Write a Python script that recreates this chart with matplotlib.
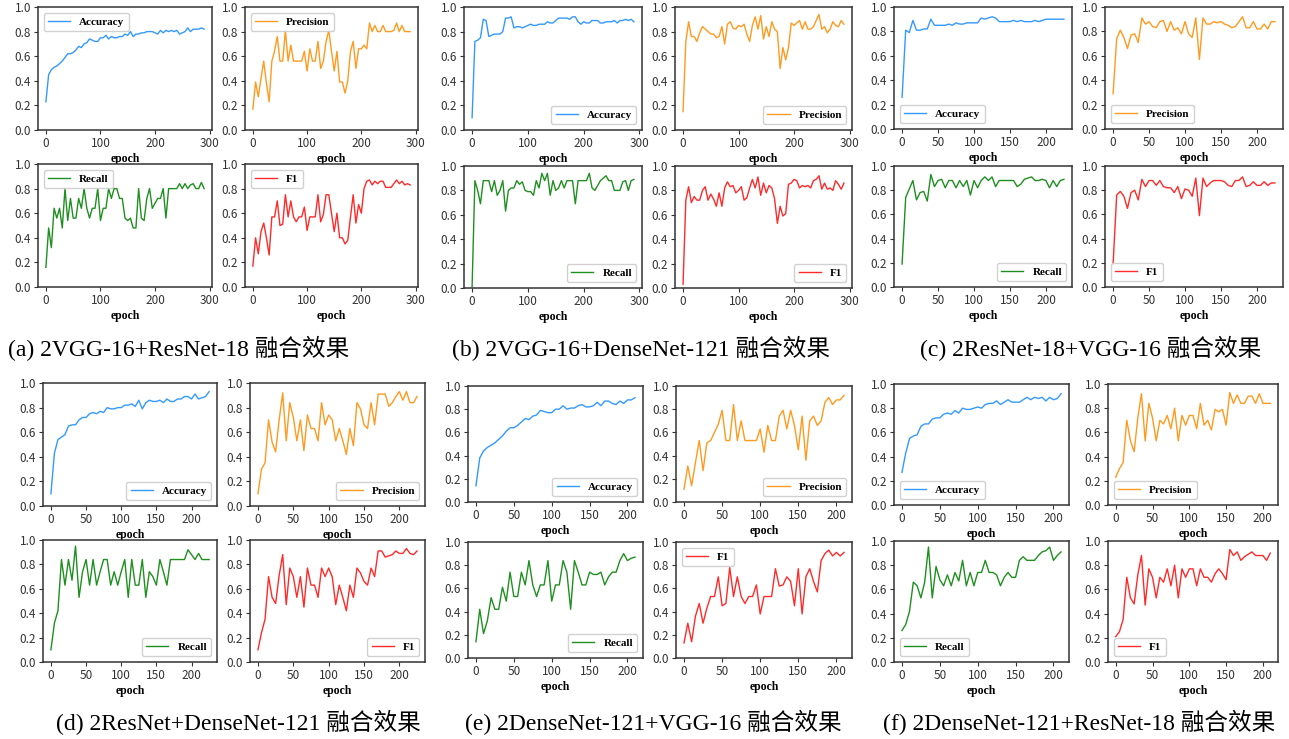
import numpy as np
import matplotlib
matplotlib.use("Agg")
import matplotlib.pyplot as plt
from matplotlib.ticker import MultipleLocator

# metric curves, one value every 5 epochs
a_acc = [0.23,0.45,0.49,0.51,0.52,0.54,0.56,0.59,0.62,0.62,0.63,0.65,0.68,0.67,0.70,0.71,0.74,0.73,0.72,0.72,
         0.75,0.75,0.77,0.74,0.76,0.75,0.75,0.76,0.76,0.78,0.77,0.80,0.76,0.78,0.78,0.79,0.79,0.80,0.80,0.80,
         0.79,0.78,0.81,0.79,0.81,0.80,0.81,0.80,0.81,0.78,0.79,0.80,0.83,0.80,0.82,0.82,0.82,0.83,0.82]
a_prec = [0.17,0.39,0.27,0.42,0.56,0.38,0.23,0.56,0.64,0.76,0.56,0.56,0.81,0.56,0.69,0.56,0.56,0.56,0.56,0.64,
          0.48,0.66,0.56,0.56,0.72,0.50,0.56,0.72,0.81,0.64,0.48,0.64,0.39,0.39,0.30,0.40,0.64,0.72,0.50,0.66,
          0.66,0.69,0.66,0.87,0.80,0.85,0.80,0.80,0.85,0.80,0.80,0.80,0.81,0.87,0.80,0.85,0.80,0.80,0.80]
a_rec = [0.16,0.48,0.32,0.64,0.56,0.64,0.48,0.80,0.54,0.72,0.56,0.56,0.72,0.64,0.80,0.64,0.56,0.64,0.64,0.80,
         0.54,0.64,0.64,0.80,0.72,0.80,0.80,0.72,0.72,0.56,0.54,0.56,0.48,0.48,0.80,0.56,0.54,0.72,0.80,0.64,
         0.68,0.72,0.72,0.80,0.56,0.80,0.80,0.80,0.80,0.84,0.80,0.84,0.80,0.83,0.84,0.80,0.80,0.85,0.80]
a_f1 = [0.17,0.40,0.27,0.45,0.52,0.40,0.26,0.57,0.57,0.70,0.50,0.51,0.75,0.57,0.70,0.57,0.53,0.57,0.57,0.65,
        0.46,0.57,0.57,0.57,0.75,0.53,0.59,0.75,0.75,0.60,0.45,0.60,0.40,0.40,0.35,0.38,0.57,0.75,0.52,0.67,
        0.60,0.80,0.86,0.87,0.83,0.86,0.84,0.86,0.86,0.81,0.81,0.81,0.84,0.87,0.84,0.86,0.83,0.84,0.83]

b_acc = [0.10,0.72,0.73,0.75,0.90,0.89,0.76,0.77,0.78,0.78,0.78,0.80,0.91,0.91,0.92,0.83,0.84,0.84,0.83,0.84,
         0.85,0.86,0.85,0.85,0.86,0.86,0.86,0.88,0.87,0.87,0.89,0.91,0.91,0.91,0.91,0.90,0.92,0.92,0.88,0.86,
         0.88,0.87,0.87,0.89,0.89,0.89,0.87,0.87,0.88,0.88,0.88,0.89,0.87,0.89,0.89,0.90,0.89,0.90,0.88]
b_prec = [0.15,0.72,0.88,0.76,0.76,0.72,0.79,0.84,0.82,0.80,0.78,0.78,0.75,0.76,0.84,0.70,0.86,0.88,0.83,0.82,
          0.85,0.84,0.86,0.78,0.72,0.85,0.92,0.82,0.93,0.74,0.84,0.76,0.88,0.82,0.80,0.50,0.67,0.57,0.67,0.87,
          0.85,0.87,0.89,0.82,0.88,0.82,0.82,0.84,0.89,0.94,0.82,0.84,0.79,0.82,0.88,0.85,0.84,0.89,0.86]
b_rec = [0.01,0.88,0.80,0.69,0.88,0.88,0.88,0.79,0.88,0.76,0.80,0.88,0.63,0.80,0.82,0.82,0.88,0.85,0.87,0.80,
         0.79,0.79,0.76,0.88,0.82,0.94,0.88,0.94,0.76,0.88,0.80,0.82,0.88,0.82,0.88,0.88,0.88,0.69,0.88,0.88,
         0.88,0.88,0.94,0.82,0.80,0.84,0.88,0.90,0.92,0.88,0.88,0.80,0.80,0.80,0.87,0.88,0.80,0.88,0.89]
b_f1 = [0.03,0.72,0.83,0.70,0.75,0.72,0.72,0.80,0.83,0.72,0.77,0.73,0.67,0.78,0.67,0.82,0.87,0.83,0.84,0.78,
        0.80,0.83,0.72,0.74,0.82,0.89,0.82,0.91,0.76,0.86,0.78,0.84,0.82,0.73,0.53,0.67,0.59,0.61,0.85,0.86,
        0.89,0.88,0.82,0.84,0.83,0.84,0.82,0.88,0.89,0.92,0.81,0.86,0.81,0.82,0.80,0.88,0.85,0.81,0.86]

c_acc = [0.26,0.81,0.79,0.89,0.81,0.81,0.82,0.82,0.90,0.85,0.85,0.85,0.85,0.86,0.85,0.87,0.86,0.86,0.87,0.87,
         0.87,0.87,0.91,0.90,0.91,0.92,0.91,0.88,0.88,0.88,0.88,0.89,0.88,0.89,0.88,0.88,0.88,0.89,0.88,0.89,
         0.90,0.90,0.90,0.90,0.90,0.90]
c_prec = [0.29,0.74,0.81,0.75,0.66,0.77,0.78,0.71,0.91,0.86,0.88,0.84,0.83,0.88,0.89,0.80,0.88,0.81,0.83,0.78,
          0.88,0.78,0.75,0.91,0.57,0.91,0.86,0.86,0.88,0.87,0.88,0.86,0.85,0.83,0.84,0.88,0.92,0.83,0.83,0.88,
          0.82,0.82,0.86,0.82,0.88,0.88]
c_rec = [0.19,0.74,0.81,0.88,0.72,0.78,0.79,0.71,0.93,0.83,0.88,0.89,0.82,0.88,0.88,0.82,0.88,0.83,0.88,0.76,
         0.88,0.82,0.88,0.91,0.88,0.91,0.83,0.88,0.88,0.88,0.88,0.88,0.83,0.85,0.89,0.90,0.91,0.88,0.88,0.89,
         0.88,0.82,0.88,0.83,0.88,0.89]
c_f1 = [0.19,0.76,0.79,0.75,0.65,0.78,0.80,0.72,0.89,0.83,0.88,0.88,0.84,0.88,0.83,0.82,0.82,0.78,0.83,0.73,
        0.81,0.80,0.75,0.90,0.59,0.90,0.83,0.86,0.88,0.88,0.88,0.87,0.84,0.83,0.88,0.88,0.91,0.83,0.84,0.87,
        0.84,0.84,0.87,0.84,0.86,0.86]

d_acc = [0.10,0.43,0.54,0.56,0.58,0.65,0.66,0.66,0.70,0.72,0.72,0.75,0.76,0.75,0.77,0.76,0.80,0.79,0.79,0.80,
         0.80,0.82,0.82,0.83,0.81,0.86,0.79,0.84,0.86,0.85,0.85,0.86,0.84,0.87,0.85,0.85,0.87,0.87,0.89,0.89,
         0.87,0.91,0.87,0.88,0.89,0.93]
d_prec = [0.10,0.30,0.35,0.70,0.52,0.44,0.70,0.92,0.53,0.84,0.72,0.53,0.70,0.45,0.74,0.63,0.63,0.53,0.84,0.66,
          0.74,0.70,0.53,0.63,0.53,0.42,0.63,0.49,0.84,0.79,0.66,0.63,0.84,0.66,0.91,0.91,0.91,0.81,0.84,0.89,
          0.93,0.86,0.93,0.84,0.84,0.89]
d_rec = [0.10,0.32,0.42,0.84,0.63,0.84,0.67,0.95,0.53,0.74,0.84,0.63,0.84,0.63,0.74,0.84,0.84,0.63,0.74,0.63,
         0.74,0.84,0.53,0.84,0.63,0.63,0.84,0.53,0.74,0.70,0.63,0.84,0.74,0.63,0.84,0.84,0.84,0.84,0.84,0.92,
         0.88,0.84,0.89,0.84,0.84,0.84]
d_f1 = [0.10,0.24,0.35,0.70,0.53,0.48,0.71,0.88,0.47,0.77,0.70,0.53,0.70,0.45,0.77,0.63,0.63,0.53,0.77,0.70,
        0.77,0.70,0.47,0.63,0.53,0.42,0.63,0.53,0.77,0.73,0.66,0.63,0.77,0.70,0.91,0.91,0.86,0.87,0.88,0.91,
        0.89,0.89,0.93,0.89,0.88,0.91]

e_acc = [0.14,0.38,0.44,0.47,0.49,0.51,0.54,0.57,0.61,0.64,0.64,0.66,0.69,0.72,0.71,0.74,0.75,0.79,0.78,0.77,
         0.77,0.80,0.80,0.83,0.80,0.81,0.81,0.83,0.84,0.82,0.82,0.83,0.86,0.83,0.87,0.87,0.85,0.84,0.87,0.85,
         0.88,0.88,0.90]
e_prec = [0.11,0.31,0.14,0.34,0.53,0.27,0.51,0.53,0.60,0.67,0.79,0.53,0.53,0.84,0.53,0.70,0.53,0.53,0.53,0.53,
          0.63,0.43,0.66,0.53,0.53,0.74,0.79,0.63,0.79,0.66,0.45,0.74,0.36,0.70,0.74,0.66,0.70,0.86,0.90,0.84,
          0.88,0.88,0.92]
e_rec = [0.14,0.42,0.21,0.32,0.52,0.42,0.42,0.61,0.49,0.74,0.53,0.53,0.74,0.63,0.84,0.63,0.53,0.63,0.63,0.84,
         0.49,0.63,0.63,0.84,0.74,0.42,0.84,0.74,0.63,0.63,0.74,0.72,0.72,0.74,0.63,0.70,0.74,0.74,0.84,0.90,
         0.84,0.86,0.87]
e_f1 = [0.13,0.30,0.14,0.36,0.47,0.30,0.43,0.53,0.53,0.70,0.45,0.47,0.78,0.53,0.70,0.53,0.47,0.53,0.53,0.63,
        0.38,0.53,0.53,0.53,0.77,0.62,0.63,0.70,0.66,0.45,0.77,0.38,0.70,0.77,0.66,0.57,0.84,0.90,0.93,0.88,
        0.91,0.88,0.91]

f_acc = [0.27,0.43,0.55,0.57,0.58,0.65,0.67,0.67,0.71,0.72,0.72,0.75,0.76,0.75,0.78,0.76,0.80,0.79,0.79,0.80,
         0.81,0.80,0.83,0.84,0.84,0.86,0.83,0.85,0.87,0.85,0.85,0.85,0.87,0.89,0.87,0.89,0.88,0.89,0.86,0.89,
         0.87,0.88,0.92]
f_prec = [0.23,0.30,0.35,0.70,0.53,0.44,0.72,0.92,0.53,0.84,0.72,0.53,0.70,0.67,0.74,0.63,0.80,0.53,0.74,0.66,
          0.74,0.74,0.63,0.84,0.66,0.70,0.62,0.79,0.77,0.79,0.66,0.93,0.84,0.91,0.84,0.84,0.90,0.90,0.84,0.92,
          0.84,0.84,0.84]
f_rec = [0.26,0.31,0.42,0.66,0.63,0.53,0.66,0.95,0.53,0.79,0.68,0.63,0.72,0.63,0.74,0.67,0.84,0.63,0.74,0.63,
         0.74,0.74,0.84,0.74,0.74,0.72,0.63,0.70,0.74,0.70,0.70,0.84,0.87,0.84,0.84,0.84,0.88,0.91,0.92,0.95,
         0.84,0.88,0.91]
f_f1 = [0.21,0.25,0.35,0.70,0.53,0.48,0.72,0.88,0.47,0.77,0.70,0.53,0.70,0.66,0.77,0.63,0.80,0.53,0.77,0.70,
        0.77,0.77,0.63,0.77,0.70,0.70,0.66,0.73,0.77,0.73,0.68,0.93,0.88,0.91,0.84,0.87,0.89,0.91,0.88,0.88,
        0.88,0.84,0.90]

captions = ["(a) 2VGG-16+ResNet-18 融合效果", "(b) 2VGG-16+DenseNet-121 融合效果",
            "(c) 2ResNet-18+VGG-16 融合效果", "(d) 2ResNet+DenseNet-121 融合效果",
            "(e) 2DenseNet-121+VGG-16 融合效果", "(f) 2DenseNet-121+ResNet-18 融合效果"]
metric_names = ["Accuracy", "Precision", "Recall", "F1"]
metric_colors = ["#3399ff", "#ff9a1f", "#1f8f1f", "#ff2a2a"]

panel_data = [
    [a_acc, a_prec, a_rec, a_f1],
    [b_acc, b_prec, b_rec, b_f1],
    [c_acc, c_prec, c_rec, c_f1],
    [d_acc, d_prec, d_rec, d_f1],
    [e_acc, e_prec, e_rec, e_f1],
    [f_acc, f_prec, f_rec, f_f1],
]
legend_locs = [
    ["upper left", "upper left", "upper left", "upper left"],
    ["lower right", "lower right", "lower right", "lower right"],
    ["lower left", "lower left", "lower right", "lower left"],
    ["lower right", "lower right", "lower right", "lower right"],
    ["lower right", "lower right", "lower right", "upper left"],
    ["lower left", "lower left", "lower left", "lower left"],
]
epoch_step = [100, 100, 50, 50, 50, 50]

# pixel boxes: left/right of the two columns, top/bottom of the two rows
boxes = [
    (38, 212, 245, 418, 7, 130, 164, 287),
    (464, 642, 675, 852, 7, 130, 166, 288),
    (894, 1072, 1105, 1283, 7, 129, 166, 287),
    (43, 217, 250, 425, 383, 506, 540, 662),
    (468, 643, 676, 852, 386, 502, 542, 658),
    (894, 1069, 1108, 1278, 384, 505, 541, 662),
]
caption_pos = [(179, 348), (641, 348), (1091, 348), (238, 722), (653, 722), (1079, 722)]

W, H = 1289, 739
fig = plt.figure(figsize=(W / 100, H / 100), dpi=100)

serif = ["Liberation Serif", "Noto Sans CJK SC"]
tick_font = "Noto Sans CJK SC"


def add_ax(l, r, t, b):
    return fig.add_axes([l / W, 1 - b / H, (r - l) / W, (b - t) / H])


for p in range(6):
    l1, r1, l2, r2, t1, b1, t2, b2 = boxes[p]
    rects = [(l1, r1, t1, b1), (l2, r2, t1, b1), (l1, r1, t2, b2), (l2, r2, t2, b2)]
    for k in range(4):
        ax = add_ax(*rects[k])
        vals = panel_data[p][k]
        ep = np.arange(len(vals)) * 5
        ax.plot(ep, vals, color=metric_colors[k], lw=1.0, label=metric_names[k])
        ax.set_ylim(0, 1.0)
        ax.xaxis.set_major_locator(MultipleLocator(epoch_step[p]))
        ax.set_yticks(np.arange(0, 1.01, 0.2))
        ax.set_yticklabels(["%.1f" % v for v in np.arange(0, 1.01, 0.2)])
        ax.set_xlabel("epoch", fontfamily="Liberation Serif", fontweight="bold",
                      fontsize=8.5, labelpad=2)
        for s in ax.spines.values():
            s.set_color("#333333")
            s.set_linewidth(1.1)
        ax.tick_params(labelsize=8.5, length=3, width=0.8, colors="#333333", pad=2)
        for lab in ax.get_xticklabels() + ax.get_yticklabels():
            lab.set_fontfamily(tick_font)
        ax.legend(loc=legend_locs[p][k], prop={"family": "Liberation Serif",
                                               "weight": "bold", "size": 8},
                  edgecolor="#cccccc", framealpha=0.9, handlelength=2.0,
                  borderpad=0.4)
    cx, cy = caption_pos[p]
    fig.text(cx / W, 1 - cy / H, captions[p], ha="center", va="center",
             fontsize=17, family=serif)

fig.savefig("out.png", dpi=100)
